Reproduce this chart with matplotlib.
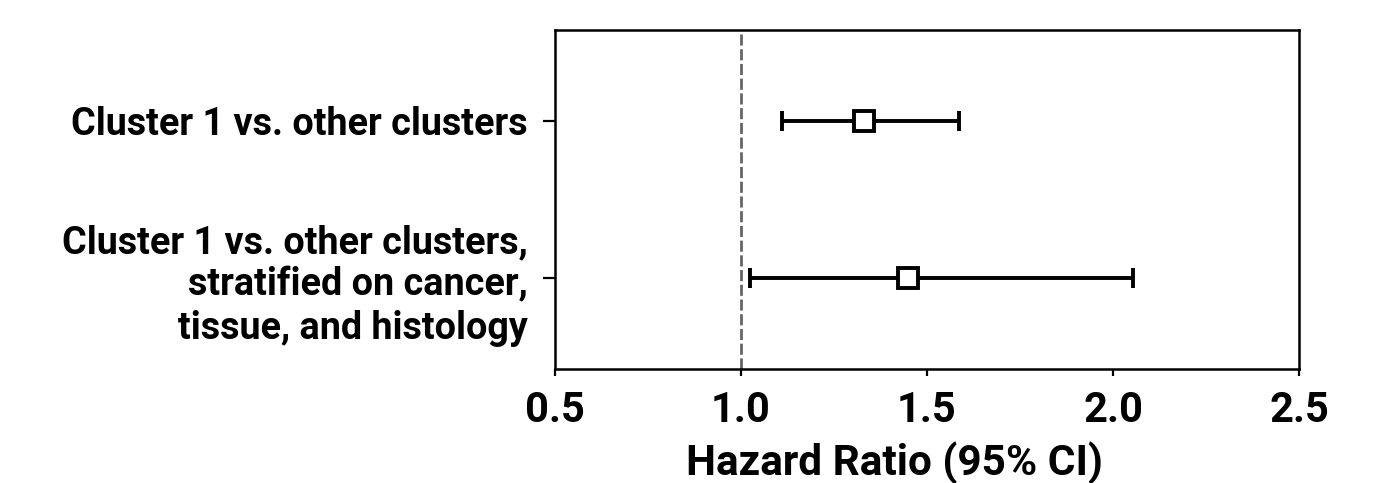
import matplotlib
matplotlib.use("Agg")
import matplotlib.pyplot as plt

# -----------------------
# Data
# -----------------------
labels = [
    "Cluster 1 vs. other clusters",
    "Cluster 1 vs. other clusters,\nstratified on cancer,\ntissue, and histology",
]
hr = [1.33, 1.45]
ci_low = [1.11, 1.025]
ci_high = [1.585, 2.055]
x_ticks = [0.5, 1.0, 1.5, 2.0, 2.5]

plt.rcParams["font.family"] = ["Roboto", "DejaVu Sans"]
plt.rcParams["font.weight"] = "bold"

fig = plt.figure(figsize=(13.77, 4.83), dpi=100)
ax = fig.add_axes([0.403, 0.236, 0.9434 - 0.403, 0.9379 - 0.236])

ypos = [1, 0]
err = [[h - lo for h, lo in zip(hr, ci_low)], [hi - h for h, hi in zip(hr, ci_high)]]
ax.errorbar(hr, ypos, xerr=err, fmt="s", color="black", ecolor="black",
            elinewidth=2.8, capsize=7, capthick=2.8,
            markersize=14.5, markerfacecolor="white", markeredgecolor="black",
            markeredgewidth=2.8, zorder=3)

ax.axvline(1.0, color="#666666", linestyle=(0, (4, 1.3)), linewidth=2, zorder=1)

ax.set_xlim(0.5, 2.5)
ax.set_ylim(-0.575, 1.575)
ax.set_xticks(x_ticks)
ax.set_xticklabels([f"{t:.1f}" for t in x_ticks], fontsize=30, fontweight="bold")
ax.set_yticks(ypos)
ax.set_yticklabels(labels, fontsize=27.2, fontweight="bold", linespacing=1.2)
ax.set_xlabel("Hazard Ratio (95% CI)", fontsize=30.5, fontweight="bold")
ax.xaxis.set_label_coords(0.457, -0.215)

for s in ax.spines.values():
    s.set_linewidth(1.8)
ax.tick_params(axis="y", length=8.5, width=1.6, pad=11)
ax.tick_params(axis="x", length=5, width=1.6, pad=10)

fig.savefig("out.png", dpi=100)
